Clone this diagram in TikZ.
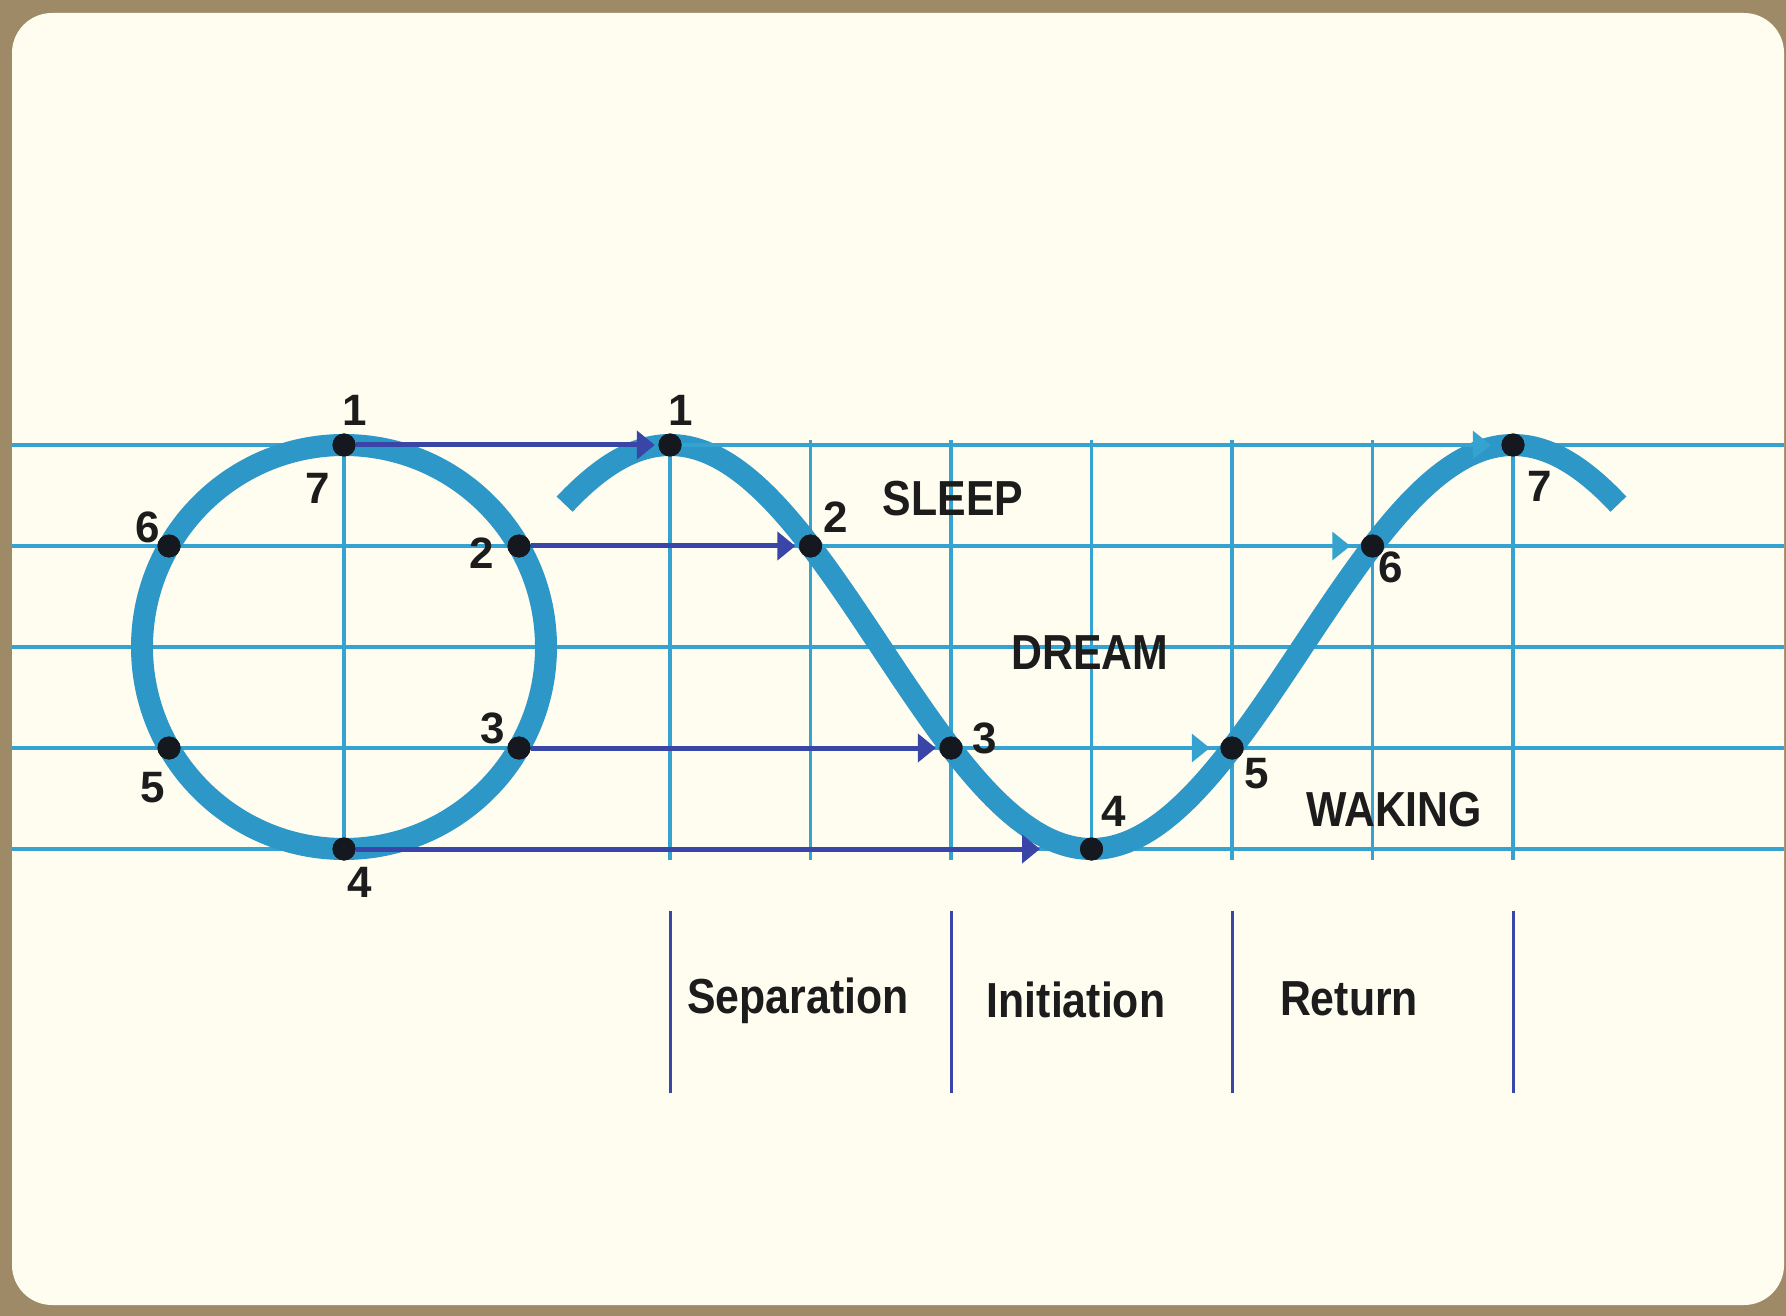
\documentclass[tikz,border=0pt]{standalone}
\usepackage{fontspec}
\setmainfont{Liberation Sans}
\newfontfamily\wordfont[FakeStretch=0.87]{Liberation Sans}
\usetikzlibrary{arrows.meta}
\definecolor{brownbg}{HTML}{9E8A66}
\definecolor{cardcol}{HTML}{FFFDF0}
\definecolor{inkblue}{HTML}{2D97C8}
\definecolor{gridblue}{HTML}{35A2CF}
\definecolor{darkarrow}{HTML}{3A45A8}
\definecolor{dotcol}{HTML}{16181F}
\definecolor{txt}{HTML}{1C1C1C}
\begin{document}
\begin{tikzpicture}[x=0.1mm, y=-0.1mm,
  gridline/.style={gridblue, line width=0.35mm},
  wavestroke/.style={inkblue, line width=2.2mm},
  darrow/.style={darkarrow, line width=0.5mm, -{Triangle[length=1.8mm,width=2.8mm]}, shorten >=0.3mm},
  larrow/.style={gridblue, line width=0.35mm, -{Triangle[length=1.8mm,width=2.8mm]}, shorten >=1mm},
  phaseline/.style={darkarrow, line width=0.3mm},
  dot/.style={circle, fill=dotcol, inner sep=0pt, minimum size=2.3mm},
  num/.style={font=\fontsize{12.5}{12.5}\selectfont\bfseries, text=txt, inner sep=0pt},
  word/.style={font=\wordfont\fontsize{14}{14}\selectfont\bfseries, text=txt, inner sep=0pt}]

% card
\fill[brownbg] (0,0) rectangle (1786,1316);
\fill[cardcol, rounded corners=4mm] (12,13) rectangle (1784,1305);
\useasboundingbox (0,0) rectangle (1786,1316);

% grid
\foreach \yy in {445,546,647,748,849} \draw[gridline] (12,\yy) -- (1784,\yy);
\draw[gridline] (344,445) -- (344,849);
\foreach \k in {0,...,6} \draw[gridline] ({670+140.5*\k},440) -- ({670+140.5*\k},860);

% circle and wave
\draw[wavestroke] (344,647) circle[radius=202];
\draw[wavestroke] plot[domain=-45:405, samples=151, smooth] ({670+2.341667*\x},{647-202*cos(\x)});

% dots on circle
\node[dot] (c1) at (344,445) {};
\node[dot] (c2) at (519,546) {};
\node[dot] (c3) at (519,748) {};
\node[dot] (c4) at (344,849) {};
\node[dot] (c5) at (169,748) {};
\node[dot] (c6) at (169,546) {};

% dots on wave
\node[dot] (s1) at (670,445) {};
\node[dot] (s2) at (810.5,546) {};
\node[dot] (s3) at (951,748) {};
\node[dot] (s4) at (1091.5,849) {};
\node[dot] (s5) at (1232,748) {};
\node[dot] (s6) at (1372.5,546) {};
\node[dot] (s7) at (1513,445) {};
\coordinate (e4) at (1040,849);

% dark projection arrows
\draw[darrow] (c1) -- (s1);
\draw[darrow] (c2) -- (s2);
\draw[darrow] (c3) -- (s3);
\draw[darrow, shorten >=0pt] (c4) -- (e4);

% light arrows on the wave grid
\draw[larrow] (s1) -- (s7);
\draw[larrow] (s2) -- (s6);
\draw[larrow] (s3) -- (s5);

% redraw dots on top
\foreach \n in {c1,c2,c3,c4,c5,c6,s1,s2,s3,s4,s5,s6,s7} \fill[dotcol] (\n) circle[radius=11.5];

% circle labels
\node[num] (lc1) at (355,410) {1};
\node[num] (lc7) at (318,488) {7};
\node[num] (lc6) at (148,527) {6};
\node[num] (lc2) at (482,553) {2};
\node[num] (lc3) at (493,728) {3};
\node[num] (lc5) at (153,788) {5};
\node[num] (lc4) at (360,882) {4};

% wave labels
\node[num] (ls1) at (681,410) {1};
\node[num] (ls2) at (836,517) {2};
\node[num] (ls3) at (985,738) {3};
\node[num] (ls4) at (1114,811) {4};
\node[num] (ls5) at (1257,774) {5};
\node[num] (ls6) at (1391,567) {6};
\node[num] (ls7) at (1540,486) {7};

\node[word] (sleep) at (953,499) {SLEEP};
\node[word] (dream) at (1090,653) {DREAM};
\node[word] (waking) at (1394,810) {WAKING};

% phases
\foreach \xx/\nm in {670/pa,951/pb,1232/pc,1513/pd} {
  \coordinate (\nm t) at (\xx,911);
  \coordinate (\nm b) at (\xx,1093);
  \draw[phaseline] (\nm t) -- (\nm b);
}
\node[word] (sep) at (798,1001) {Separation};
\node[word] (ini) at (1076,1000) {Initiation};
\node[word] (ret) at (1349,999) {Return};
\end{tikzpicture}
\end{document}
